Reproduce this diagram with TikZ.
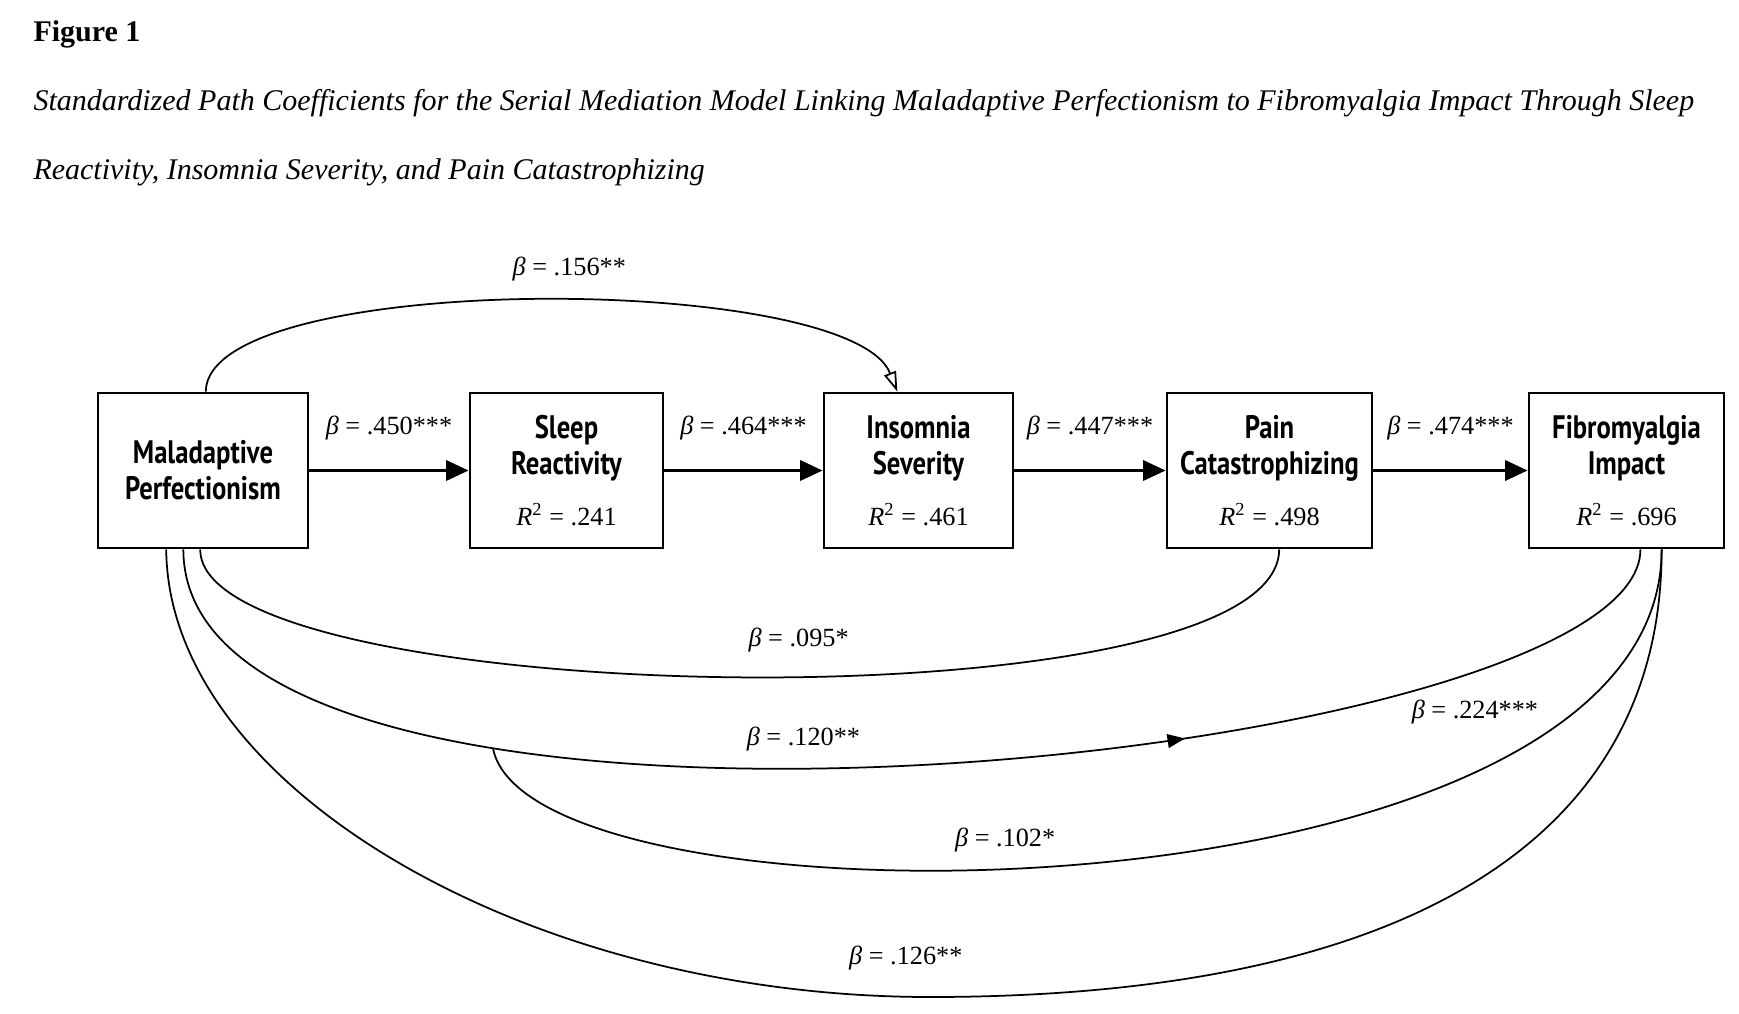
\documentclass[tikz,border=0pt]{standalone}
\usepackage{fontspec}
\setmainfont{Liberation Serif}
\newfontfamily\boxfont[FakeStretch=0.82]{PT Sans}
\usepackage{tikz}
\usetikzlibrary{arrows.meta,decorations.markings}

\newcommand{\bcoef}[1]{\textit{β} = #1}
\newcommand{\rsq}[1]{{\normalfont\fontsize{10.5}{12}\selectfont\textit{R}\textsuperscript{2} = #1}}

\tikzset{
	captext/.style={anchor=base west,inner sep=0pt,font=\fontsize{12}{14}\selectfont},
	box/.style={draw,line width=1.1pt,minimum height=62pt,inner sep=0pt,align=center,font=\boxfont\bfseries\fontsize{13}{14.5}\selectfont},
	coef/.style={inner sep=0pt,font=\fontsize{10.5}{12}\selectfont},
	mainarrow/.style={line width=1.4pt,-{Triangle[length=9pt,width=8pt]}},
	effline/.style={line width=0.7pt},
}

\begin{document}
\begin{tikzpicture}[x=0.4pt,y=-0.4pt]
	\useasboundingbox (0,0) rectangle (1739,1013);
	\node[captext] (fig) at (33,41) {\textbf{Figure 1}};
	\node[captext] (cap1) at (33,110) {\textit{Standardized Path Coefficients for the Serial Mediation Model Linking Maladaptive Perfectionism to Fibromyalgia Impact Through Sleep}};
	\node[captext] (cap2) at (33,179) {\textit{Reactivity, Insomnia Severity, and Pain Catastrophizing}};

	\node[box,minimum width=84pt] (MP) at (203,470.5) {Maladaptive\\Perfectionism};
	\node[box,minimum width=77.2pt] (SR) at (566.5,470.5) {Sleep\\Reactivity\\[6pt]\rsq{.241}};
	\node[box,minimum width=75.6pt] (IS) at (918.5,470.5) {Insomnia\\Severity\\[6pt]\rsq{.461}};
	\node[box,minimum width=82pt] (PC) at (1269.5,470.5) {Pain\\Catastrophizing\\[6pt]\rsq{.498}};
	\node[box,minimum width=78pt] (FI) at (1626.5,470.5) {Fibromyalgia\\Impact\\[6pt]\rsq{.696}};

	\draw[mainarrow] (MP) -- node[coef,midway,above=11.5pt] {\bcoef{.450***}} (SR);
	\draw[mainarrow] (SR) -- node[coef,midway,above=11.5pt] {\bcoef{.464***}} (IS);
	\draw[mainarrow] (IS) -- node[coef,midway,above=11.5pt] {\bcoef{.447***}} (PC);
	\draw[mainarrow] (PC) -- node[coef,midway,above=11.5pt] {\bcoef{.474***}} (FI);

	\draw[effline,-{Triangle[open,length=8pt,width=5pt]}] (MP.88) .. controls (207,270) and (850,272) .. (IS.105) node[coef,pos=.535,above=7.7pt] {\bcoef{.156**}};
	\draw[effline] (MP.268) .. controls (199,710) and (1278,730) .. (PC.277) node[coef,pos=.537,above=9.5pt] {\bcoef{.095*}};
	\draw[effline,postaction={decorate},decoration={markings,mark=at position .68 with {\arrow{Triangle[length=7pt,width=5.5pt]}}}] (MP.256) .. controls (184,910) and (1641,765) .. (FI.280) node[coef,pos=.45,above=6.5pt] {\bcoef{.120**}} node[coef,pos=.79,below=11pt] {\bcoef{.224***}} coordinate[pos=.297] (br);
	\draw[effline] (br) .. controls (530,940) and (1662,930) .. (FI.294) node[coef,pos=.45,above=6.5pt] {\bcoef{.102*}};
	\draw[effline] (MP.245) .. controls (168,786) and (526,997) .. (930,997) node[coef,pos=.98,above=10.5pt] {\bcoef{.126**}} .. controls (1406,997) and (1662,840) .. (FI.294);
\end{tikzpicture}
\end{document}
